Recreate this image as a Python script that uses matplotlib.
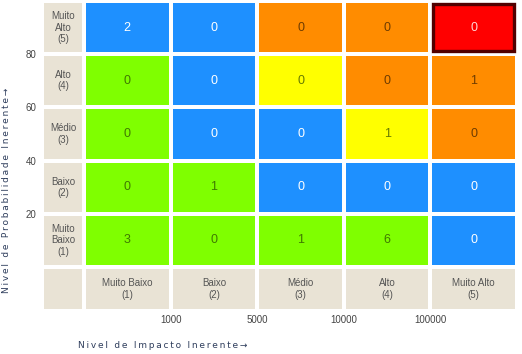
import matplotlib.pyplot as plt
from matplotlib.patches import Rectangle

# ============================================================
# DADOS
# ============================================================

prob_labels = ["Muito\nBaixo\n(1)", "Baixo\n(2)", "Médio\n(3)", "Alto\n(4)", "Muito\nAlto\n(5)"]
impact_labels = ["Muito Baixo\n(1)", "Baixo\n(2)", "Médio\n(3)", "Alto\n(4)", "Muito Alto\n(5)"]

# linhas: probabilidade 1..5 (de baixo para cima), colunas: impacto 1..5
counts = [
    [3, 0, 1, 6, 0],
    [0, 1, 0, 0, 0],
    [0, 0, 0, 1, 0],
    [0, 0, 0, 0, 1],
    [2, 0, 0, 0, 0],
]
levels = [
    ["G", "G", "G", "G", "B"],
    ["G", "G", "B", "B", "B"],
    ["G", "B", "B", "Y", "O"],
    ["G", "B", "Y", "O", "O"],
    ["B", "B", "O", "O", "R"],
]

y_ticks = [20, 40, 60, 80]
x_ticks = ["1000", "5000", "10000", "100000"]

fill = {"G": "#7fff00", "B": "#1e90ff", "Y": "#ffff00", "O": "#ff8c00", "R": "#ff0000"}
txt = {"G": "#3f7a00", "B": "#ffffff", "Y": "#667a00", "O": "#6e3c00", "R": "#ffd6d6"}
beige = "#e9e3d5"

# ============================================================
# FIGURA
# ============================================================

plt.rcParams["font.family"] = ["Liberation Sans", "DejaVu Sans"]

fig = plt.figure(figsize=(5.22, 3.54), dpi=100)
ax = fig.add_axes([42 / 522, 1 - 311 / 354, 475 / 522, 310 / 354])
ax.set_xlim(-0.485, 5)
ax.set_ylim(-0.827, 5)

gx, gy = 0.023, 0.038

for i in range(5):
    for j in range(5):
        lv = levels[i][j]
        ax.add_patch(Rectangle((j + gx, i + gy), 1 - 2 * gx, 1 - 2 * gy,
                               facecolor=fill[lv], edgecolor="none"))
        if lv == "R":
            ax.add_patch(Rectangle((j + gx + 0.012, i + gy + 0.02),
                                   1 - 2 * gx - 0.024, 1 - 2 * gy - 0.04,
                                   facecolor="none", edgecolor="#520000", lw=2.4))
        ax.text(j + 0.5, i + 0.5, str(counts[i][j]), ha="center", va="center",
                fontsize=9, color=txt[lv])

# coluna de rótulos de probabilidade
for i in range(5):
    ax.add_patch(Rectangle((-0.485 + gx, i + gy), 0.485 - 2 * gx, 1 - 2 * gy,
                           facecolor=beige, edgecolor="none"))
    ax.text(-0.2425, i + 0.5, prob_labels[i], ha="center", va="center",
            fontsize=7, color="#555555", linespacing=1.15)

# linha de rótulos de impacto
ax.add_patch(Rectangle((-0.485 + gx, -0.827 + gy), 0.485 - 2 * gx, 0.827 - 2 * gy,
                       facecolor=beige, edgecolor="none"))
for j in range(5):
    ax.add_patch(Rectangle((j + gx, -0.827 + gy), 1 - 2 * gx, 0.827 - 2 * gy,
                           facecolor=beige, edgecolor="none"))
    ax.text(j + 0.5, -0.4135, impact_labels[j], ha="center", va="center",
            fontsize=7, color="#555555", linespacing=1.15)

ax.set_yticks([v / 20 for v in y_ticks])
ax.set_yticklabels([str(v) for v in y_ticks])
ax.set_xticks(range(1, 5))
ax.set_xticklabels(x_ticks)
ax.tick_params(length=0, labelsize=7, labelcolor="#444444")
ax.tick_params(axis="y", pad=4)
ax.tick_params(axis="x", pad=3)
for s in ax.spines.values():
    s.set_visible(False)


def spaced(s):
    return "\u2009".join(s)


fig.text(7 / 522, 1 - 190 / 354, spaced("Nivel de Probabilidade Inerente→"),
         rotation=90, ha="center", va="center", fontsize=6.5,
         color="#2e3d5c", family="DejaVu Sans")
fig.text(78 / 522, 1 - 345 / 354, spaced("Nivel de Impacto Inerente→"),
         ha="left", va="center", fontsize=6.5, color="#2e3d5c", family="DejaVu Sans")

# ============================================================
# EXPORTAÇÃO
# ============================================================

plt.savefig("out.png", dpi=100)
